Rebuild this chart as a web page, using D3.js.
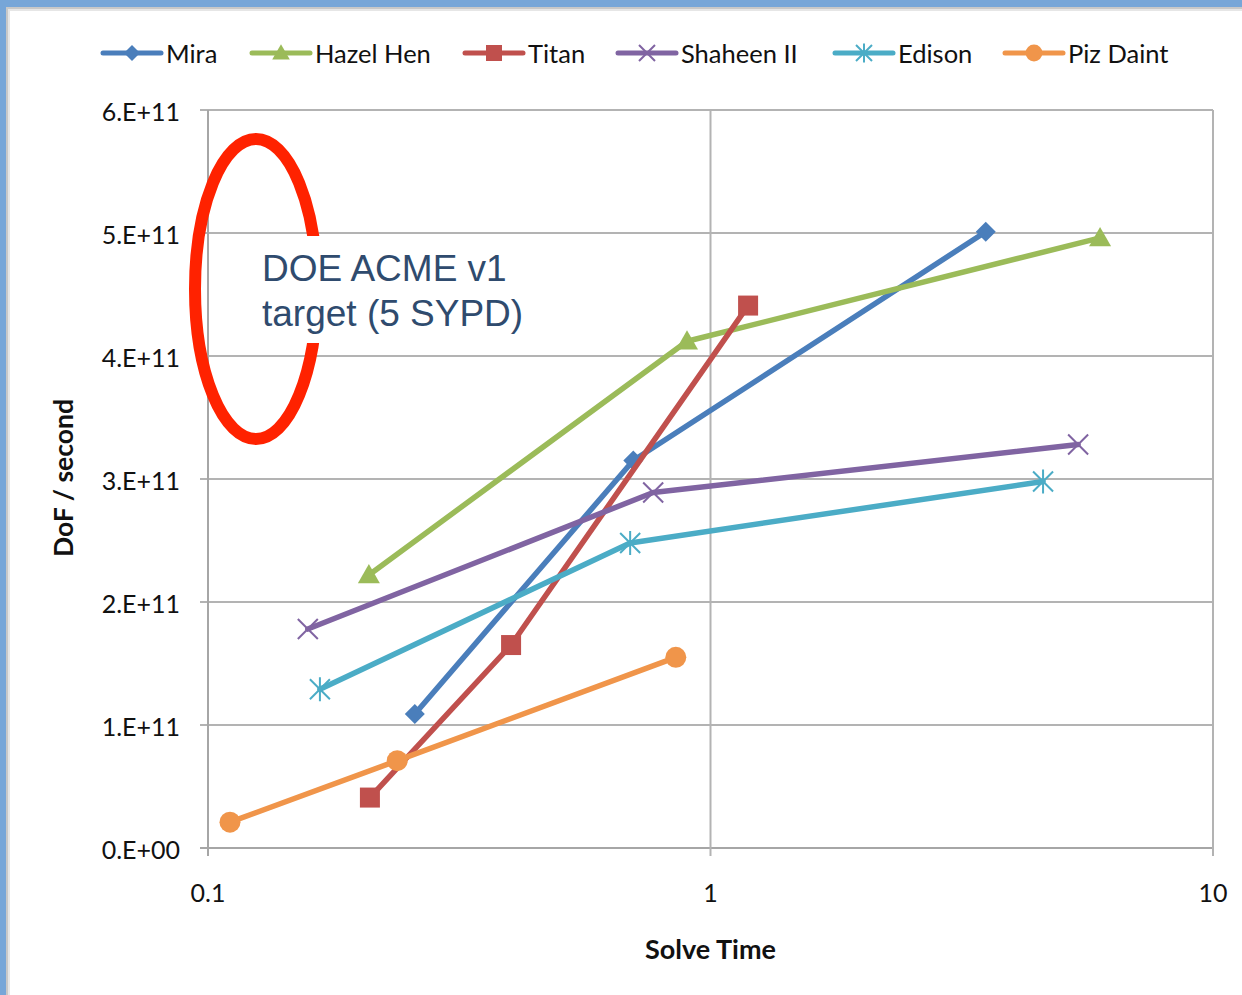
<!DOCTYPE html>
<html><head><meta charset="utf-8">
<script src="https://cdn.jsdelivr.net/npm/d3@7"></script>
<style>
html,body{margin:0;padding:0;background:#fff;}
svg{display:block;}
</style></head>
<body>
<svg id="chart" width="1242" height="995"></svg>
<script>
const seriesNames = ["Mira","Hazel Hen","Titan","Shaheen II","Edison","Piz Daint"];
const seriesColors = ["#4a7ebb","#9bbb59","#c0504d","#8064a2","#4bacc6","#f0954a"];
const seriesMarkers = ["diamond","triangle","square","x","star","circle"];
const miraX = [0.258, 0.702, 3.53];
const miraY = [1.09e11, 3.15e11, 5.01e11];
const hazelX = [0.209, 0.898, 5.96];
const hazelY = [2.22e11, 4.12e11, 4.96e11];
const titanX = [0.210, 0.401, 1.188];
const titanY = [0.41e11, 1.65e11, 4.41e11];
const shaheenX = [0.158, 0.769, 5.39];
const shaheenY = [1.78e11, 2.89e11, 3.28e11];
const edisonX = [0.167, 0.692, 4.59];
const edisonY = [1.29e11, 2.48e11, 2.98e11];
const pizX = [0.1106, 0.238, 0.853];
const pizY = [0.21e11, 0.71e11, 1.55e11];
const yTicks = [0, 1e11, 2e11, 3e11, 4e11, 5e11, 6e11];
const yTickLabels = ["0.E+00","1.E+11","2.E+11","3.E+11","4.E+11","5.E+11","6.E+11"];
const xTicks = [0.1, 1, 10];
const xTickLabels = ["0.1","1","10"];
const xTitle = "Solve Time";
const yTitle = "DoF / second";
const annotationLines = ["DOE ACME v1","target (5 SYPD)"];

const allX = [miraX, hazelX, titanX, shaheenX, edisonX, pizX];
const allY = [miraY, hazelY, titanY, shaheenY, edisonY, pizY];
const series = seriesNames.map((n,i)=>({name:n,color:seriesColors[i],marker:seriesMarkers[i],
  pts: allX[i].map((x,j)=>({x, y: allY[i][j]}))}));

const svg = d3.select("#chart");
const W = 1242, H = 995;
const font = "Lato, 'Open Sans', sans-serif";

// frame
svg.append("rect").attr("x",0).attr("y",0).attr("width",W).attr("height",H).attr("fill","#77a6d8");
svg.append("rect").attr("x",6).attr("y",7).attr("width",W).attr("height",H).attr("fill","#c8c8c8");
svg.append("rect").attr("x",8).attr("y",9).attr("width",W).attr("height",H).attr("fill","#e6e6e6");
svg.append("rect").attr("x",10).attr("y",11).attr("width",W).attr("height",H).attr("fill","#ffffff");

const L = 208, R = 1213, T = 110, B = 848;
const x = d3.scaleLog().domain([0.1,10]).range([L,R]);
const y = d3.scaleLinear().domain([0,6e11]).range([B,T]);

const grid = svg.append("g");
grid.selectAll("line.h").data(yTicks).join("line")
  .attr("x1",L-8).attr("x2",R).attr("y1",d=>y(d)).attr("y2",d=>y(d))
  .attr("stroke",d=>d===0?"#a6a6a6":"#b3b3b3").attr("stroke-width",2);
grid.selectAll("line.v").data(xTicks).join("line")
  .attr("x1",d=>x(d)).attr("x2",d=>x(d)).attr("y1",T).attr("y2",B+8)
  .attr("stroke",(d,i)=>i===0?"#a6a6a6":"#b3b3b3").attr("stroke-width",2);

svg.append("g").selectAll("text").data(yTicks).join("text")
  .attr("x",180).attr("y",d=>y(d)+2).attr("dy","0.35em").attr("text-anchor","end")
  .attr("font-family",font).attr("font-size",25).attr("fill","#111")
  .text((d,i)=>yTickLabels[i]);
svg.append("g").selectAll("text").data(xTicks).join("text")
  .attr("x",d=>x(d)).attr("y",893).attr("dy","0.35em").attr("text-anchor","middle")
  .attr("font-family",font).attr("font-size",25).attr("fill","#111")
  .text((d,i)=>xTickLabels[i]);

svg.append("text").attr("x",(L+R)/2).attr("y",950).attr("dy","0.35em").attr("text-anchor","middle")
  .attr("font-family",font).attr("font-size",27).attr("font-weight","bold").attr("fill","#111").text(xTitle);
svg.append("text").attr("transform","translate(64,478) rotate(-90)").attr("dy","0.35em").attr("text-anchor","middle")
  .attr("font-family",font).attr("font-size",26.5).attr("font-weight","bold").attr("fill","#111").text(yTitle);

function drawMarker(g, type, color, cx, cy, s){
  const k = s||1;
  if(type==="diamond"){
    const r=10*k;
    g.append("path").attr("d",`M${cx},${cy-r}L${cx+r},${cy}L${cx},${cy+r}L${cx-r},${cy}Z`).attr("fill",color);
  } else if(type==="triangle"){
    const r=11*k;
    g.append("path").attr("d",`M${cx},${cy-r}L${cx+r},${cy+r*0.75}L${cx-r},${cy+r*0.75}Z`).attr("fill",color);
  } else if(type==="square"){
    const r=10*k;
    g.append("rect").attr("x",cx-r).attr("y",cy-r).attr("width",2*r).attr("height",2*r).attr("fill",color);
  } else if(type==="circle"){
    g.append("circle").attr("cx",cx).attr("cy",cy).attr("r",10.5*k).attr("fill",color);
  } else if(type==="x"){
    const r=10*k;
    g.append("path").attr("d",`M${cx-r},${cy-r}L${cx+r},${cy+r}M${cx-r},${cy+r}L${cx+r},${cy-r}`)
      .attr("stroke",color).attr("stroke-width",2).attr("fill","none");
  } else if(type==="star"){
    const r=10*k;
    g.append("path").attr("d",`M${cx-r},${cy-r}L${cx+r},${cy+r}M${cx-r},${cy+r}L${cx+r},${cy-r}M${cx},${cy-r*1.2}L${cx},${cy+r*1.2}`)
      .attr("stroke",color).attr("stroke-width",2).attr("fill","none");
  }
}

const line = d3.line().x(d=>x(d.x)).y(d=>y(d.y));
const plot = svg.append("g");
series.forEach(s=>{
  const g = plot.append("g");
  g.append("path").datum(s.pts).attr("d",line).attr("fill","none")
    .attr("stroke",s.color).attr("stroke-width",5.5).attr("stroke-linejoin","round").attr("stroke-linecap","round");
  s.pts.forEach(p=>drawMarker(g, s.marker, s.color, x(p.x), y(p.y), 1));
});

const legX = [103, 252, 465, 618, 835, 1005];
const leg = svg.append("g");
series.forEach((s,i)=>{
  const g = leg.append("g");
  const x0 = legX[i], ly = 53;
  g.append("line").attr("x1",x0).attr("x2",x0+58).attr("y1",ly).attr("y2",ly)
    .attr("stroke",s.color).attr("stroke-width",5).attr("stroke-linecap","round");
  drawMarker(g, s.marker, s.color, x0+29, ly, 0.8);
  g.append("text").attr("x",x0+63).attr("y",ly+1).attr("dy","0.35em")
    .attr("font-family",font).attr("font-size",25.5).attr("fill","#111").text(s.name);
});

svg.append("ellipse").attr("cx",256).attr("cy",289).attr("rx",61).attr("ry",150)
  .attr("fill","none").attr("stroke","#ff2200").attr("stroke-width",12);
svg.append("rect").attr("x",250).attr("y",236).attr("width",285).attr("height",107).attr("fill","#fff");
svg.append("text").attr("font-family","'Liberation Sans', Arial, sans-serif").attr("font-size",37).attr("fill","#2f4b6e")
  .selectAll("tspan").data(annotationLines).join("tspan")
  .attr("x",262).attr("y",(d,i)=>281+i*45).text(d=>d);
</script>
</body></html>
